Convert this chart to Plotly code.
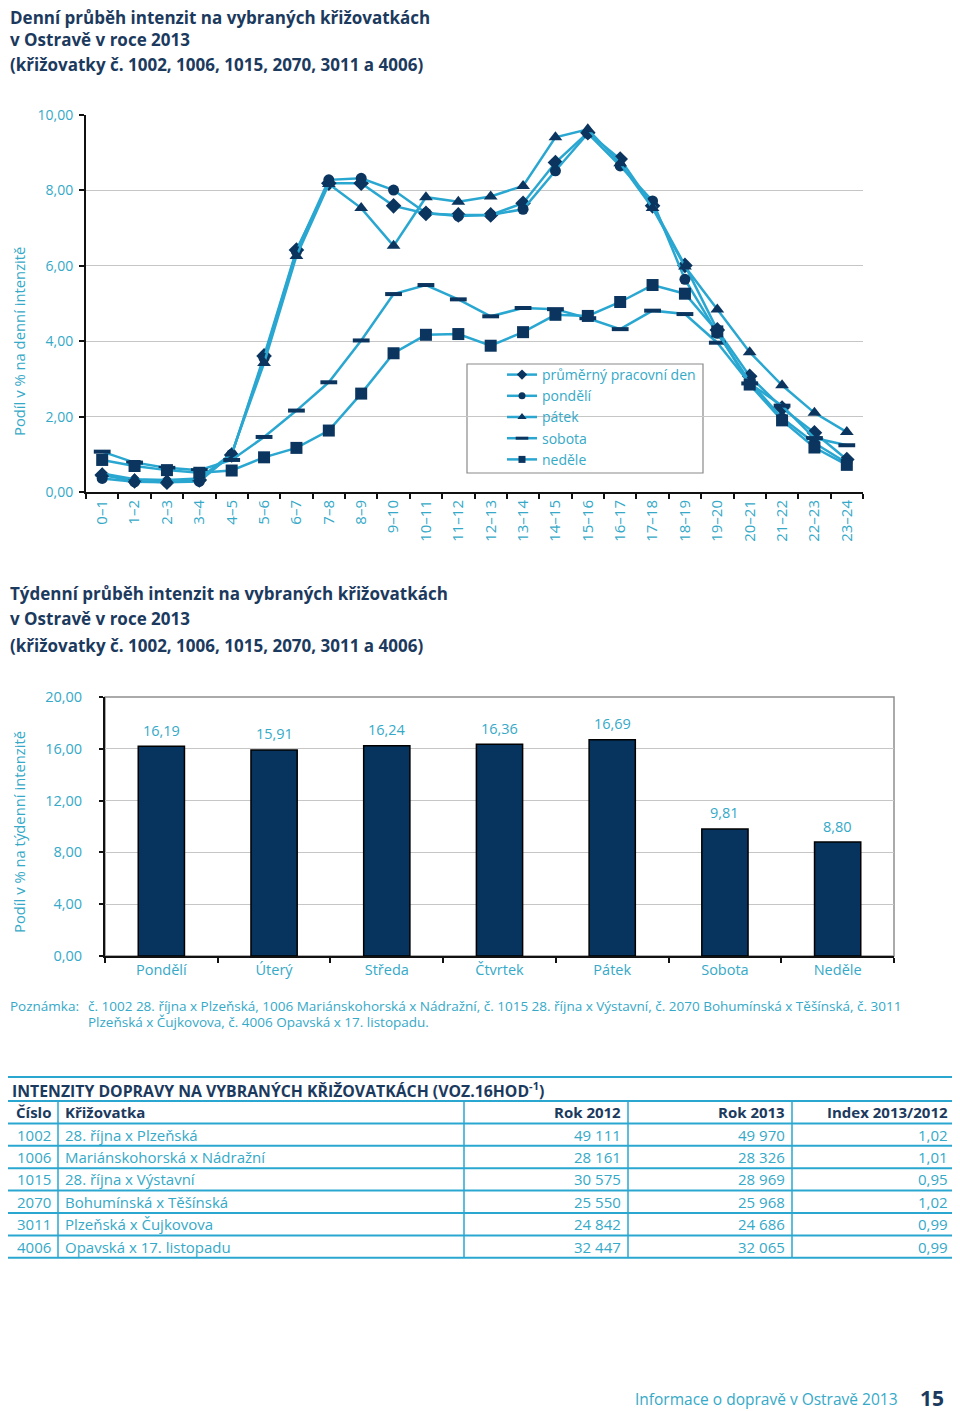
import plotly.graph_objects as go

# the page body has an 8px margin, so the figure is 952x1403 and coordinates
# below are page pixels shifted by OFF
OFF = 8
W, H = 960 - OFF, 1411 - OFF

# ---------------- data ----------------
hours = ["0–1", "1–2", "2–3", "3–4", "4–5", "5–6", "6–7", "7–8", "8–9", "9–10",
         "10–11", "11–12", "12–13", "13–14", "14–15", "15–16", "16–17", "17–18",
         "18–19", "19–20", "20–21", "21–22", "22–23", "23–24"]

prumerny_pracovni_den = [0.45, 0.29, 0.26, 0.32, 0.98, 3.61, 6.42, 8.19, 8.19, 7.59,
                         7.39, 7.35, 7.35, 7.66, 8.74, 9.53, 8.83, 7.59, 6.01, 4.30,
                         3.07, 2.23, 1.57, 0.86]
pondeli = [0.36, 0.27, 0.26, 0.28, 1.00, 3.55, 6.38, 8.28, 8.32, 8.01,
           7.40, 7.32, 7.35, 7.50, 8.52, 9.51, 8.65, 7.72, 5.64, 4.21,
           2.93, 1.96, 1.30, 0.77]
patek = [0.49, 0.34, 0.32, 0.36, 1.02, 3.42, 6.26, 8.17, 7.53, 6.53,
         7.82, 7.70, 7.84, 8.12, 9.41, 9.62, 8.72, 7.53, 5.98, 4.84,
         3.71, 2.83, 2.10, 1.59]
sobota = [1.07, 0.78, 0.64, 0.58, 0.85, 1.46, 2.16, 2.91, 4.02, 5.25,
          5.49, 5.11, 4.66, 4.88, 4.85, 4.61, 4.32, 4.81, 4.72, 3.96,
          2.88, 2.29, 1.43, 1.24]
nedele = [0.85, 0.69, 0.58, 0.51, 0.57, 0.92, 1.17, 1.63, 2.61, 3.68,
          4.17, 4.19, 3.88, 4.24, 4.70, 4.67, 5.04, 5.49, 5.26, 4.26,
          2.85, 1.90, 1.18, 0.72]

series_names = ["průměrný pracovní den", "pondělí", "pátek", "sobota", "neděle"]
series_values = [prumerny_pracovni_den, pondeli, patek, sobota, nedele]

line_ticks = [0, 2, 4, 6, 8, 10]

days = ["Pondělí", "Úterý", "Středa", "Čtvrtek", "Pátek", "Sobota", "Neděle"]
weekly_share = [16.19, 15.91, 16.24, 16.36, 16.69, 9.81, 8.80]
bar_ticks = [0, 4, 8, 12, 16, 20]

table_headers = ["Číslo", "Křižovatka", "Rok 2012", "Rok 2013", "Index 2013/2012"]
table_cislo = ["1002", "1006", "1015", "2070", "3011", "4006"]
table_krizovatka = ["28. října x Plzeňská", "Mariánskohorská x Nádražní",
                    "28. října x Výstavní", "Bohumínská x Těšínská",
                    "Plzeňská x Čujkovova", "Opavská x 17. listopadu"]
table_rok2012 = ["49 111", "28 161", "30 575", "25 550", "24 842", "32 447"]
table_rok2013 = ["49 970", "28 326", "28 969", "25 968", "24 686", "32 065"]
table_index = ["1,02", "1,01", "0,95", "1,02", "0,99", "0,99"]

# ---------------- styles ----------------
FONT = "Open Sans"
NAVY = "#1b3a5e"
TEAL_TXT = "#35a9c7"
TEAL_LINE = "#2aa7d1"
MARK = "#0b355f"
GRID = "#c6c6c6"


def X(px):
    return (px - OFF) / W


def Y(py):
    return 1 - (py - OFF) / H


fig = go.Figure()

symbols = ["diamond", "circle", "triangle-up", "line-ew", "square"]
sizes = [12, 11, 12, 12, 12]
legend_sizes = [8, 7, 8, 9, 7]
for name, vals, sym, sz, lsz in zip(series_names, series_values, symbols, sizes, legend_sizes):
    marker = dict(symbol=sym, size=sz, color=MARK)
    lmarker = dict(symbol=sym, size=lsz, color=MARK)
    if sym == "line-ew":
        marker["line"] = dict(color=MARK, width=4)
        lmarker["line"] = dict(color=MARK, width=3)
    fig.add_trace(go.Scatter(
        x=hours, y=vals, name=name, mode="lines+markers", showlegend=False,
        line=dict(color=TEAL_LINE, width=2.5), marker=marker,
        xaxis="x", yaxis="y", cliponaxis=False))
    # legend entry (smaller symbol as in the original legend)
    fig.add_trace(go.Scatter(
        x=[None], y=[None], name=name, mode="lines+markers", showlegend=True,
        line=dict(color=TEAL_LINE, width=2.5), marker=lmarker,
        xaxis="x", yaxis="y"))

fig.add_trace(go.Bar(
    x=days, y=weekly_share, width=0.41, showlegend=False,
    marker=dict(color="#07345e", line=dict(color="#000000", width=1.5)),
    xaxis="x2", yaxis="y2"))

annotations = []
shapes = []

# bar value labels
for d, v in zip(days, weekly_share):
    annotations.append(dict(x=d, y=v, xref="x2", yref="y2", text=f"{v:.2f}".replace(".", ","),
                            showarrow=False, yanchor="middle", yshift=16,
                            font=dict(family=FONT, size=14.5, color=TEAL_TXT)))

tick_font = dict(family=FONT, size=14, color=TEAL_TXT)

fig.update_layout(
    width=W, height=H, autosize=False,
    margin=dict(l=0, r=0, t=0, b=0, pad=0),
    paper_bgcolor="white", plot_bgcolor="white",
    separators=", ",
    font=dict(family=FONT, color=TEAL_TXT),
    xaxis=dict(domain=[X(86), X(863)], type="category", range=[-0.5, 23.5],
               showline=True, linecolor="#111", linewidth=2, ticks="outside",
               tickson="boundaries", ticklen=5, tickcolor="#111", tickwidth=1.5,
               tickangle=-90, tickfont=dict(family=FONT, size=15, color=TEAL_TXT),
               showgrid=False, anchor="y", automargin=False),
    yaxis=dict(domain=[Y(492), Y(115)], range=[0, 10], tickvals=line_ticks,
               tickformat=".2f", showline=True, linecolor="#111", linewidth=2,
               ticks="outside", ticklen=5, tickcolor="#111", tickwidth=1.5,
               tickfont=tick_font, gridcolor=GRID, gridwidth=1.2,
               zeroline=False, anchor="x", ticklabelstandoff=3, automargin=False),
    xaxis2=dict(domain=[X(105), X(894)], type="category", range=[-0.5, 6.5],
                showline=True, linecolor="#111", linewidth=2, ticks="outside",
                tickson="boundaries", ticklen=5, tickcolor="#111", tickwidth=1.5,
                tickfont=dict(family=FONT, size=14.5, color=TEAL_TXT),
                showgrid=False, anchor="y2", automargin=False),
    yaxis2=dict(domain=[Y(956), Y(697)], range=[0, 20], tickvals=bar_ticks,
                tickformat=".2f", showline=True, linecolor="#111", linewidth=2,
                ticks="outside", ticklen=4, tickcolor="#111", tickwidth=1.5,
                tickfont=dict(family=FONT, size=14.5, color=TEAL_TXT),
                gridcolor=GRID, gridwidth=1.2, zeroline=False, anchor="x2",
                ticklabelstandoff=14, automargin=False),
    legend=dict(x=X(502), y=Y(359), xanchor="left", yanchor="top",
                bgcolor="rgba(0,0,0,0)", borderwidth=0,
                font=dict(family=FONT, size=14, color=TEAL_TXT),
                itemwidth=30, tracegroupgap=0),
    bargap=0.59,
)

# legend frame
shapes.append(dict(type="rect", xref="paper", yref="paper", x0=X(467), x1=X(703),
                   y0=Y(473), y1=Y(364), line=dict(color="#8a8a8a", width=1.2),
                   fillcolor="white", layer="between"))

# frame of bar chart (top and right grey)
shapes.append(dict(type="rect", xref="x2 domain", yref="y2 domain", x0=0, x1=1, y0=0, y1=1,
                   line=dict(color="#8f8f8f", width=1.5), layer="below"))

# titles
title_font = dict(family=FONT, size=17, color=NAVY)
for txt, py in [("Denní průběh intenzit na vybraných křižovatkách", 18),
                ("v Ostravě v roce 2013", 39.5),
                ("(křižovatky č. 1002, 1006, 1015, 2070, 3011 a 4006)", 64),
                ("Týdenní průběh intenzit na vybraných křižovatkách", 593),
                ("v Ostravě v roce 2013", 619),
                ("(křižovatky č. 1002, 1006, 1015, 2070, 3011 a 4006)", 645)]:
    annotations.append(dict(x=X(8), y=Y(py), xref="paper", yref="paper", text=f"<b>{txt}</b>",
                            showarrow=False, xanchor="left", yanchor="middle", font=title_font))

# axis titles
annotations.append(dict(x=X(19), y=Y(342), xref="paper", yref="paper",
                        text="Podíl v % na denní intenzitě", textangle=-90, showarrow=False,
                        xanchor="center", yanchor="middle", borderpad=0,
                        font=dict(family=FONT, size=14.8, color=TEAL_TXT)))
annotations.append(dict(x=X(19), y=Y(832), xref="paper", yref="paper",
                        text="Podíl v % na týdenní intenzitě", textangle=-90, showarrow=False,
                        xanchor="center", yanchor="middle", borderpad=0,
                        font=dict(family=FONT, size=14.8, color=TEAL_TXT)))

# note
note_font = dict(family=FONT, size=13.5, color=TEAL_TXT)
annotations.append(dict(x=X(8), y=Y(1006), xref="paper", yref="paper", text="Poznámka:",
                        showarrow=False, xanchor="left", yanchor="middle", font=note_font))
annotations.append(dict(x=X(86), y=Y(1005.5), xref="paper", yref="paper",
                        text="č. 1002 28. října x Plzeňská, 1006 Mariánskohorská x Nádražní, č. 1015 28. října x Výstavní, č. 2070 Bohumínská x Těšínská, č. 3011",
                        showarrow=False, xanchor="left", yanchor="middle", font=note_font))
annotations.append(dict(x=X(86), y=Y(1021.5), xref="paper", yref="paper",
                        text="Plzeňská x Čujkovova, č. 4006 Opavská x 17. listopadu.",
                        showarrow=False, xanchor="left", yanchor="middle", font=note_font))

# table
T_LEFT, T_RIGHT = 8, 955
T_TOP = 1077
HEAD_TOP = 1101
ROW_H = 22.4
n_rows = len(table_cislo)
T_BOTTOM = HEAD_TOP + (n_rows + 1) * ROW_H
col_seps = [58, 464, 628, 792]
col_anchor = [(53, "right"), (63, "left"), (623, "right"), (787, "right"), (950, "right")]

shapes.append(dict(type="line", xref="paper", yref="paper", x0=X(T_LEFT), x1=X(T_RIGHT),
                   y0=Y(T_TOP), y1=Y(T_TOP), line=dict(color=TEAL_LINE, width=2)))
for k in range(n_rows + 2):
    yy = HEAD_TOP + k * ROW_H
    shapes.append(dict(type="line", xref="paper", yref="paper", x0=X(T_LEFT), x1=X(T_RIGHT),
                       y0=Y(yy), y1=Y(yy), line=dict(color=TEAL_LINE, width=2)))
for cx in col_seps:
    shapes.append(dict(type="line", xref="paper", yref="paper", x0=X(cx), x1=X(cx),
                       y0=Y(HEAD_TOP), y1=Y(T_BOTTOM), line=dict(color=TEAL_LINE, width=1.5)))

annotations.append(dict(x=X(10), y=Y((T_TOP + HEAD_TOP) / 2 + 1), xref="paper", yref="paper",
                        text="<b>INTENZITY DOPRAVY NA VYBRANÝCH KŘIŽOVATKÁCH (VOZ.16HOD<sup>-1</sup>)</b>",
                        showarrow=False, xanchor="left", yanchor="middle",
                        font=dict(family=FONT, size=15.8, color=NAVY)))
for (cx, anc), htxt in zip(col_anchor, table_headers):
    annotations.append(dict(x=X(cx), y=Y(HEAD_TOP + ROW_H / 2), xref="paper", yref="paper",
                            text=f"<b>{htxt}</b>", showarrow=False, xanchor=anc, yanchor="middle",
                            font=dict(family=FONT, size=15, color=NAVY)))
columns = [table_cislo, table_krizovatka, table_rok2012, table_rok2013, table_index]
for (cx, anc), col in zip(col_anchor, columns):
    for i, val in enumerate(col):
        annotations.append(dict(x=X(cx), y=Y(HEAD_TOP + ROW_H * (i + 1.5)), xref="paper",
                                yref="paper", text=val, showarrow=False, xanchor=anc,
                                yanchor="middle",
                                font=dict(family=FONT, size=15, color=TEAL_TXT)))

# footer
annotations.append(dict(x=X(900), y=Y(1399), xref="paper", yref="paper",
                        text="Informace o dopravě v Ostravě 2013", showarrow=False,
                        xanchor="right", yanchor="middle",
                        font=dict(family=FONT, size=15.5, color=TEAL_TXT)))
annotations.append(dict(x=X(932), y=Y(1398), xref="paper", yref="paper",
                        text="<b>15</b>", showarrow=False, xanchor="center", yanchor="middle",
                        font=dict(family=FONT, size=21, color=NAVY)))

fig.update_layout(annotations=annotations, shapes=shapes)

fig.write_html("out.html")
